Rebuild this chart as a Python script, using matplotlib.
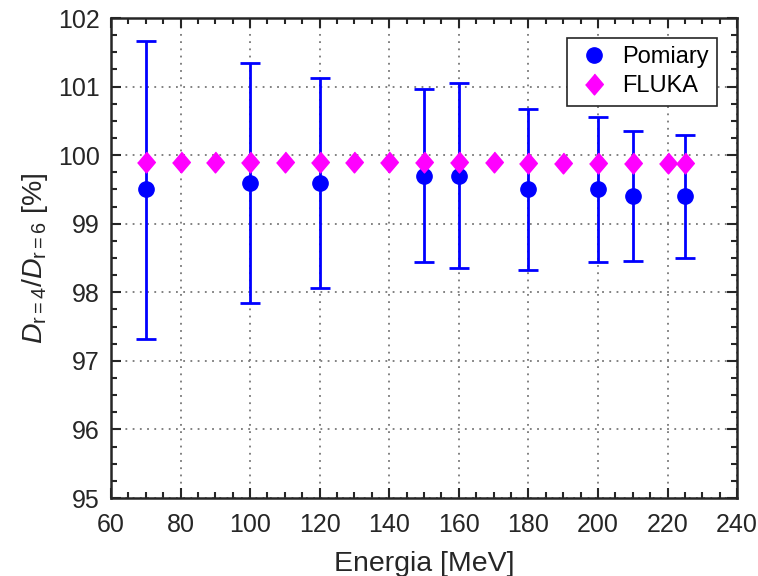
import numpy as np
import matplotlib
matplotlib.use("Agg")
import matplotlib.pyplot as plt
from matplotlib.ticker import MultipleLocator
from matplotlib.lines import Line2D

plt.rcParams['font.family'] = ['Liberation Sans', 'DejaVu Sans']
plt.rcParams['mathtext.fontset'] = 'custom'
plt.rcParams['mathtext.rm'] = 'Liberation Sans'
plt.rcParams['mathtext.it'] = 'Liberation Sans:italic'

# pomiary (z niepewnosciami)
energia_pom = [70, 100, 120, 150, 160, 180, 200, 210, 225]
stosunek_pom = [99.5, 99.6, 99.6, 99.7, 99.7, 99.5, 99.5, 99.4, 99.4]
gora_pom = [101.67, 101.35, 101.12, 100.96, 101.05, 100.67, 100.56, 100.35, 100.29]
dol_pom = [97.32, 97.84, 98.07, 98.44, 98.35, 98.33, 98.44, 98.45, 98.50]

# FLUKA
energia_fluka = [70, 80, 90, 100, 110, 120, 130, 140, 150, 160, 170, 180, 190, 200, 210, 220, 225]
stosunek_fluka = [99.90, 99.90, 99.90, 99.90, 99.90, 99.90, 99.90, 99.90, 99.90, 99.90,
                  99.90, 99.89, 99.88, 99.88, 99.88, 99.88, 99.88]

y = np.array(stosunek_pom)
yerr = [y - np.array(dol_pom), np.array(gora_pom) - y]

fig = plt.figure(figsize=(7.58, 5.76), dpi=100)
ax = fig.add_axes([0.1464, 0.1354, 0.826, 0.8333])

ax.errorbar(energia_pom, y, yerr=yerr, fmt='o', color='#0000ff', ms=11,
            elinewidth=2, capsize=7, capthick=2, zorder=3)
romb = [(0, 1), (0.85, 0), (0, -1), (-0.85, 0)]
ax.plot(energia_fluka, stosunek_fluka, linestyle='none', marker=romb, ms=15,
        color='#ff00ff', zorder=4)

ax.set_xlim(60, 240)
ax.set_ylim(95, 102)
ax.xaxis.set_major_locator(MultipleLocator(20))
ax.xaxis.set_minor_locator(MultipleLocator(5))
ax.yaxis.set_major_locator(MultipleLocator(1))
ax.yaxis.set_minor_locator(MultipleLocator(0.25))

ax.tick_params(which='both', direction='in', top=True, right=True, colors='#262626',
               labelsize=18, width=1.5)
ax.tick_params(which='major', length=7, pad=8)
ax.tick_params(axis='x', which='major', pad=11)
ax.tick_params(which='minor', length=4)
for s in ax.spines.values():
    s.set_linewidth(1.8)
    s.set_color('#262626')

ax.grid(True, which='major', linestyle=(0, (1, 3)), color='#777777', linewidth=1.3)

ax.set_xlabel('Energia [MeV]', fontsize=20.5, color='#262626', labelpad=10)
ax.set_ylabel(r'$D_{\mathrm{r{=}4}}/D_{\mathrm{r{=}6}}$ [%]', fontsize=20.5, color='#262626', labelpad=6)

uchwyty = [Line2D([], [], linestyle='none', marker='o', ms=11, color='#0000ff'),
           Line2D([], [], linestyle='none', marker=romb, ms=15, color='#ff00ff')]
leg = ax.legend(uchwyty, ['Pomiary', 'FLUKA'], loc='upper right', fontsize=17,
                fancybox=False, framealpha=1, borderaxespad=0.85, handletextpad=0.4,
                handlelength=1.6, labelspacing=0.3, borderpad=0.35)
leg.get_frame().set_edgecolor('#262626')
leg.get_frame().set_linewidth(1.2)

fig.savefig('out.png', dpi=100)
